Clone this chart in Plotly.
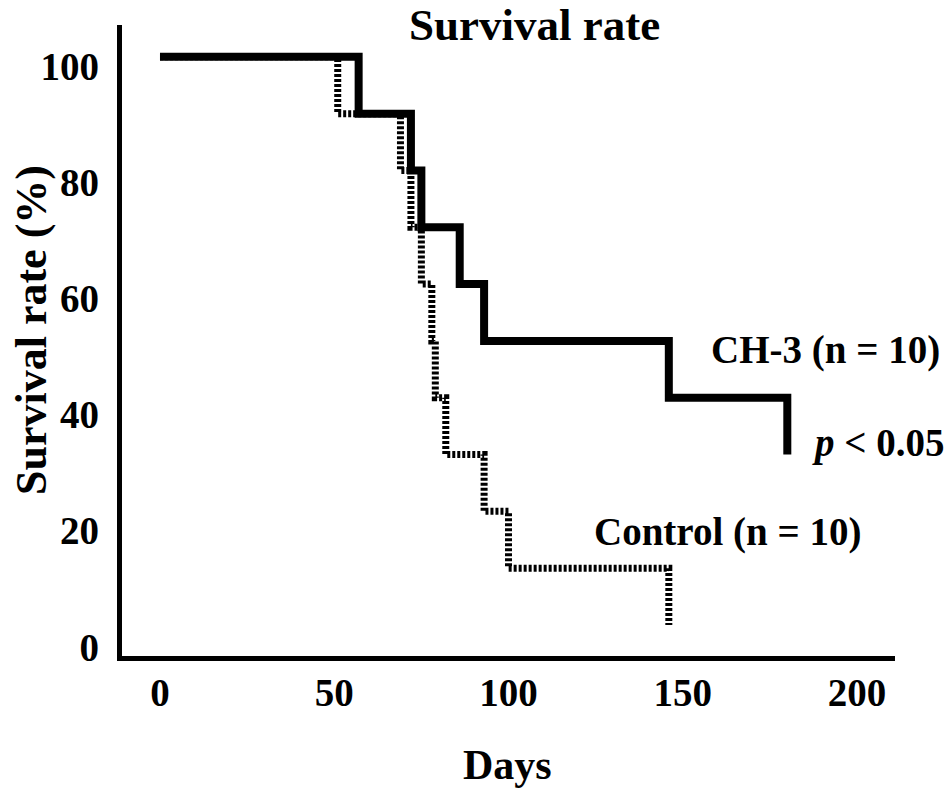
import plotly.graph_objects as go

# Data (Kaplan-Meier steps)
ch3_days = [0, 57, 72, 75, 86, 93, 146, 180]
ch3_survival = [100, 90, 80, 70, 60, 50, 40, 30]

control_days = [0, 51, 69, 72, 75, 78, 79, 82, 93, 100, 146]
control_survival = [100, 90, 80, 70, 60, 50, 40, 30, 20, 10, 0]

x_ticks = [0, 50, 100, 150, 200]
y_ticks = [0, 20, 40, 60, 80, 100]

FONT = "Liberation Serif, Times New Roman, serif"

fig = go.Figure()

fig.add_trace(go.Scatter(
    x=control_days, y=control_survival, mode="lines", line_shape="hv",
    line=dict(color="black", width=7, dash="3px,2px"), name="Control",
    showlegend=False,
))
fig.add_trace(go.Scatter(
    x=ch3_days, y=ch3_survival, mode="lines", line_shape="hv",
    line=dict(color="black", width=8), name="CH-3",
    showlegend=False,
))
# invisible trace to anchor the tick-label axis
fig.add_trace(go.Scatter(x=[0], y=[0], yaxis="y2", mode="markers",
                         marker=dict(opacity=0), showlegend=False, hoverinfo="skip"))

fig.update_layout(
    width=950, height=792,
    margin=dict(l=122, r=55, t=25, b=136),
    paper_bgcolor="white", plot_bgcolor="white",
    font=dict(family=FONT, color="black", size=39, weight="bold"),
    xaxis=dict(
        range=[-10.9, 210.9], tickvals=x_ticks, ticktext=[str(v) for v in x_ticks],
        showgrid=False, zeroline=False, showline=True, linecolor="black", linewidth=5,
        ticks="", ticklabelstandoff=-2,
        tickfont=dict(family=FONT, size=39, weight="bold", color="black"),
    ),
    yaxis=dict(
        range=[-5.46, 105.6], showticklabels=False,
        showgrid=False, zeroline=False, showline=True, linecolor="black", linewidth=5,
        ticks="",
    ),
    yaxis2=dict(
        overlaying="y", side="left", range=[-1.55, 107.06], tickvals=y_ticks,
        ticktext=[str(v) for v in y_ticks], showgrid=False, zeroline=False,
        showline=False, ticks="", ticklabelstandoff=22,
        tickfont=dict(family=FONT, size=39, weight="bold", color="black"),
    ),
)

ann_font = dict(family=FONT, size=39, color="black", weight="bold")
fig.add_annotation(text="Survival rate", xref="paper", yref="paper",
                   x=(534 - 122) / 773, y=(656 - 25) / 631, xanchor="center", yanchor="middle",
                   showarrow=False, font=dict(family=FONT, size=45, color="black", weight="bold"))
fig.add_annotation(text="Days", xref="paper", yref="paper",
                   x=(507 - 122) / 773, y=(656 - 765) / 631, xanchor="center", yanchor="middle",
                   showarrow=False, font=dict(family=FONT, size=42, color="black", weight="bold"))
fig.add_annotation(text="Survival rate (%)", xref="paper", yref="paper",
                   x=(31 - 122) / 773, y=(656 - 330) / 631, xanchor="center", yanchor="middle",
                   textangle=-90, showarrow=False,
                   font=dict(family=FONT, size=44, color="black", weight="bold"))
fig.add_annotation(text="CH-3 (n = 10)", x=191.1, y=48.4, xanchor="center", yanchor="middle",
                   showarrow=False, font=ann_font)
fig.add_annotation(text="<i>p</i> &lt; 0.05", x=186.5, y=32, xanchor="left", yanchor="middle",
                   showarrow=False, font=ann_font)
fig.add_annotation(text="Control (n = 10)", x=162.7, y=16.4, xanchor="center", yanchor="middle",
                   showarrow=False, font=ann_font)

# remove the default 8px body margin so the 950x792 figure fills the window exactly
fig.write_html("out.html", config={"displayModeBar": False},
               post_script="document.body.style.margin='0px';")
